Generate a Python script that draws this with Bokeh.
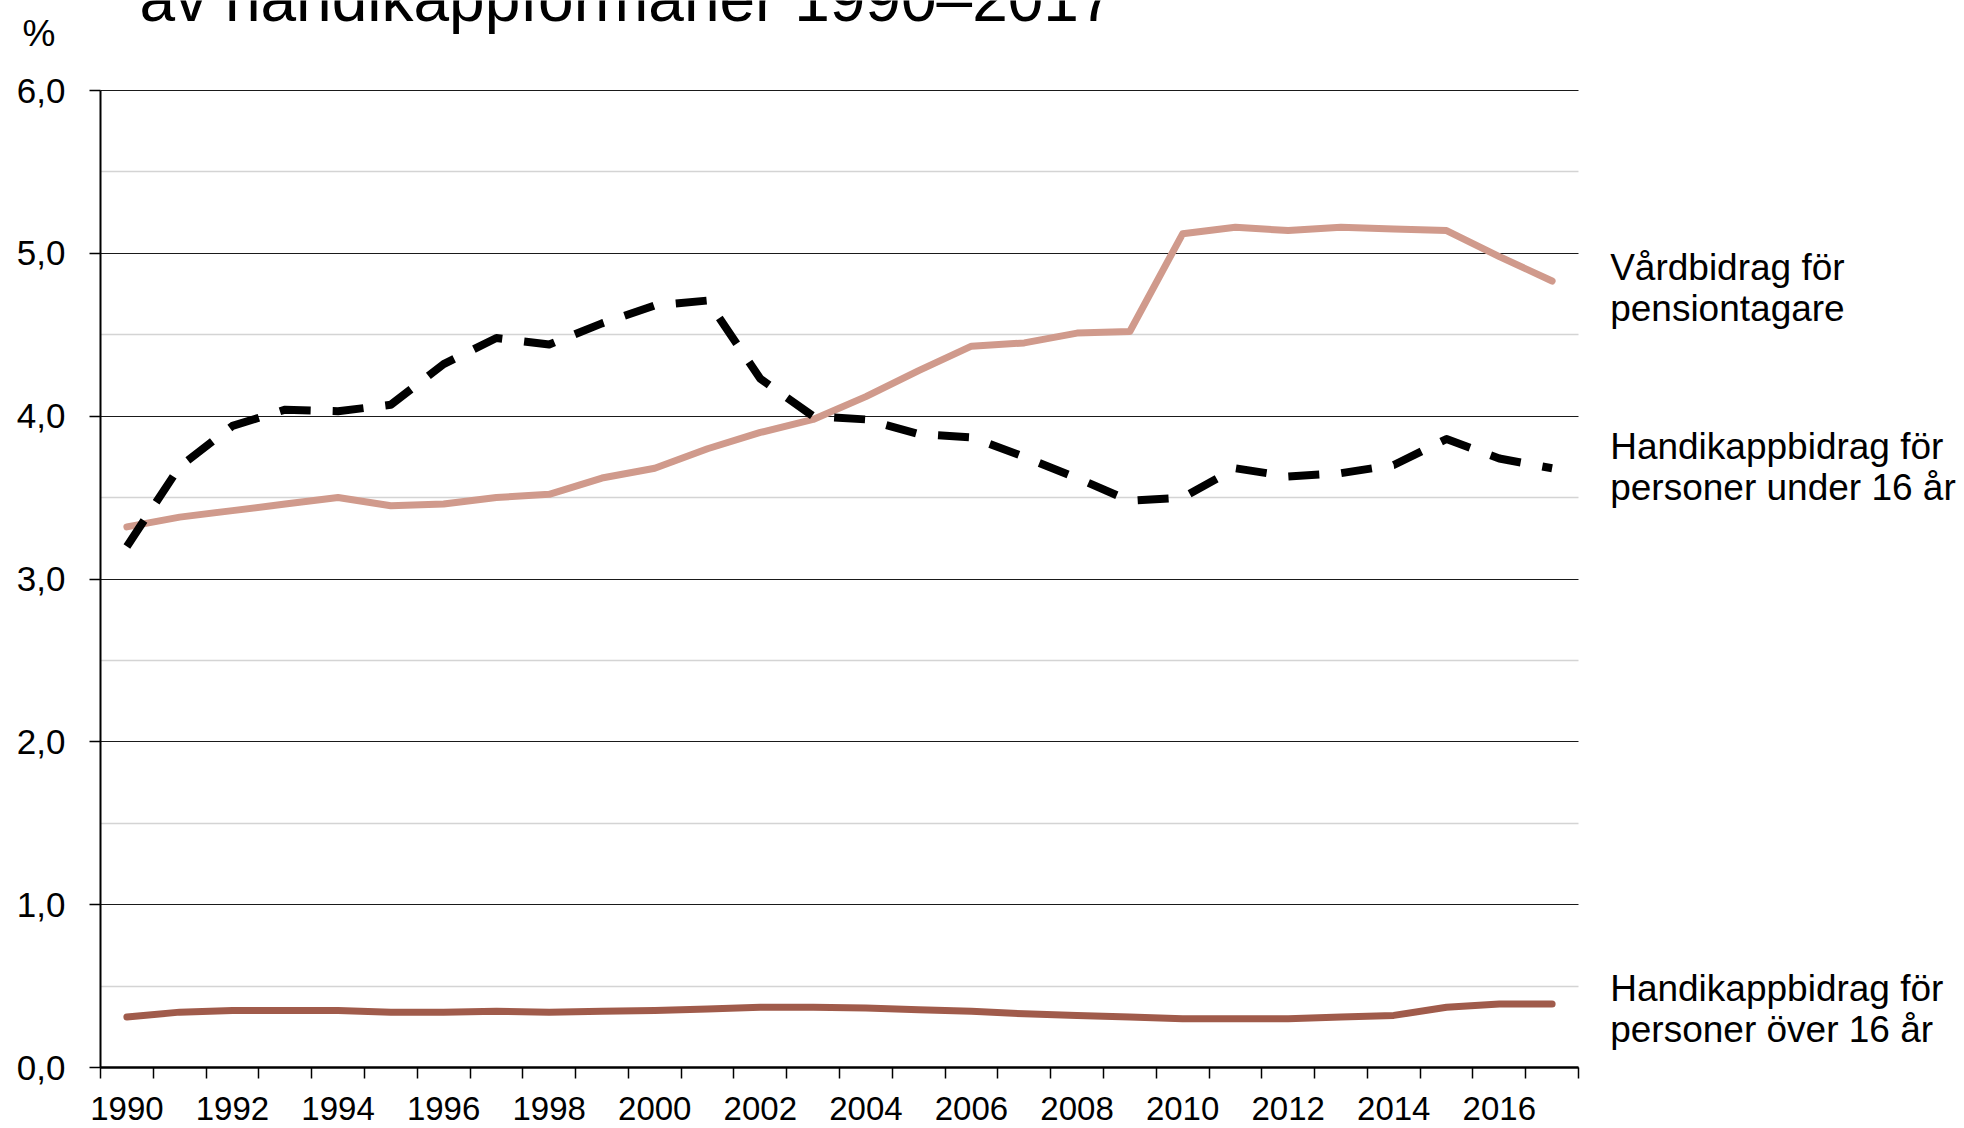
from bokeh.plotting import figure
from bokeh.models import FixedTicker, Range1d
from bokeh.core.properties import value
from bokeh.embed import file_html
from bokeh.resources import INLINE

# ---- data ----
years = list(range(1990, 2018))
vardbidrag = [3.32, 3.38, 3.42, 3.46, 3.50, 3.45, 3.46, 3.50, 3.52, 3.62,
              3.68, 3.80, 3.90, 3.98, 4.12, 4.28, 4.43, 4.45, 4.51, 4.52,
              5.12, 5.16, 5.14, 5.16, 5.15, 5.14, 4.98, 4.83]
under16 = [3.20, 3.69, 3.94, 4.04, 4.03, 4.07, 4.32, 4.48, 4.44, 4.57,
           4.68, 4.71, 4.23, 4.00, 3.98, 3.89, 3.87, 3.75, 3.62, 3.48,
           3.50, 3.68, 3.63, 3.65, 3.70, 3.86, 3.74, 3.68]
over16 = [0.31, 0.34, 0.35, 0.35, 0.35, 0.34, 0.34, 0.345, 0.34, 0.345,
          0.35, 0.36, 0.37, 0.37, 0.365, 0.355, 0.345, 0.33, 0.32, 0.31,
          0.30, 0.30, 0.30, 0.31, 0.32, 0.37, 0.39, 0.39]

y_ticks = [0, 1, 2, 3, 4, 5, 6]
y_tick_labels = ["0,0", "1,0", "2,0", "3,0", "4,0", "5,0", "6,0"]
x_label_years = list(range(1990, 2017, 2))

title_text = "av handikappförmåner 1990–2017"
unit_text = "%"
label_vard = ["Vårdbidrag för", "pensiontagare"]
label_under = ["Handikappbidrag för", "personer under 16 år"]
label_over = ["Handikappbidrag för", "personer över 16 år"]

FONT = "Liberation Sans"

# ---- layout (pixels) ----
W, H = 1960, 1127
PLOT_L, PLOT_R, PLOT_T, PLOT_B = 100, 1578, 90, 1067
X0, X1 = years[0] - 0.5, years[-1] + 0.5
Y0, Y1 = y_ticks[0], y_ticks[-1]
sx = (PLOT_R - PLOT_L) / (X1 - X0)
sy = (PLOT_B - PLOT_T) / (Y1 - Y0)
x_range = Range1d(X0 - PLOT_L / sx, X1 + (W - PLOT_R) / sx)
y_range = Range1d(Y0 - (H - PLOT_B) / sy, Y1 + PLOT_T / sy)

p = figure(width=W, height=H, x_range=x_range, y_range=y_range,
           min_border=0, min_border_left=0, min_border_right=0,
           min_border_top=0, min_border_bottom=0,
           output_backend="svg", toolbar_location=None,
           background_fill_color="white", border_fill_color="white")
p.outline_line_color = None

# ---- y axis ----
p.yaxis.fixed_location = X0
p.yaxis.bounds = (Y0, Y1)
p.yaxis.ticker = FixedTicker(ticks=y_ticks,
                             minor_ticks=[v + 0.5 for v in y_ticks[:-1]])
p.yaxis.major_label_overrides = {t: l for t, l in zip(y_ticks, y_tick_labels)}
p.yaxis.axis_line_color = "black"
p.yaxis.axis_line_width = 2
p.yaxis.major_tick_line_color = "black"
p.yaxis.major_tick_line_width = 1.5
p.yaxis.major_tick_out = 11
p.yaxis.major_tick_in = 0
p.yaxis.minor_tick_line_color = None
p.yaxis.major_label_standoff = 24
p.yaxis.major_label_text_font = FONT
p.yaxis.major_label_text_font_size = "35px"
p.yaxis.major_label_text_color = "black"

p.ygrid.grid_line_color = "#1a1a1a"
p.ygrid.grid_line_width = 1
p.ygrid.minor_grid_line_color = "#d4d4d4"
p.ygrid.minor_grid_line_width = 1.5
p.ygrid.bounds = (Y0, Y1)
p.ygrid.cross_bounds = (X0, X1)
p.xgrid.grid_line_color = None

# ---- x axis ----
p.xaxis.fixed_location = Y0
p.xaxis.bounds = (X0, X1)
p.xaxis.ticker = FixedTicker(ticks=x_label_years,
                             minor_ticks=[y - 0.5 for y in years] + [X1])
p.xaxis.major_label_overrides = {y: str(y) for y in x_label_years}
p.xaxis.axis_line_color = "black"
p.xaxis.axis_line_width = 2.5
p.xaxis.major_tick_line_color = None
p.xaxis.major_tick_out = 0
p.xaxis.major_tick_in = 0
p.xaxis.minor_tick_line_color = "black"
p.xaxis.minor_tick_line_width = 1.5
p.xaxis.minor_tick_out = 11
p.xaxis.minor_tick_in = 0
p.xaxis.major_label_standoff = 18
p.xaxis.major_label_text_font = FONT
p.xaxis.major_label_text_font_size = "33px"
p.xaxis.major_label_text_color = "black"

# ---- series ----
p.line(years, vardbidrag, line_color="#d09a8c", line_width=7,
       line_cap="round", line_join="round")
p.line(years, over16, line_color="#a05b4b", line_width=7,
       line_cap="round", line_join="round")
p.line(years, under16, line_color="black", line_width=8,
       line_dash="31 22", line_cap="butt", line_join="round")

# ---- texts ----
p.text(x=[1990.24], y=[6.559], text=[title_text], text_font=value(FONT),
       text_font_size="64px", text_color="black",
       text_baseline="alphabetic", text_align="left")
p.text(x=[1988.02], y=[6.352], text=[unit_text], text_font=value(FONT),
       text_font_size="37px", text_color="black",
       text_baseline="alphabetic", text_align="left")

lab_text = label_vard + label_under + label_over
lab_y = [4.915, 4.663, 3.815, 3.562, 0.488, 0.236]
p.text(x=[2018.1] * len(lab_text), y=lab_y, text=lab_text,
       text_font=value(FONT), text_font_size="37px", text_color="black",
       text_baseline="alphabetic", text_align="left")

open("out.html", "w").write(file_html(p, INLINE))
